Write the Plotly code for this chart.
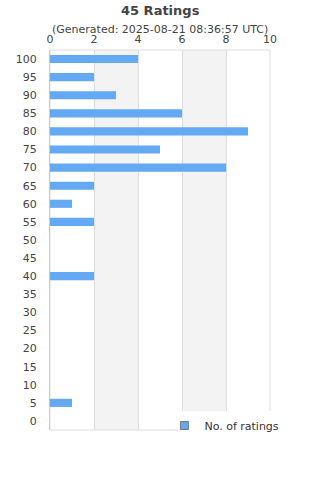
import plotly.graph_objects as go

categories = [str(v) for v in range(0, 101, 5)]
counts = [0, 1, 0, 0, 0, 0, 0, 0, 2, 0, 0, 2, 1, 2, 8, 5, 9, 6, 3, 2, 4]
x_ticks = [0, 2, 4, 6, 8, 10]
title = "45 Ratings"
subtitle = "(Generated: 2025-08-21 08:36:57 UTC)"
series_name = "No. of ratings"

BAR = "#63a9f4"
FONT = "DejaVu Sans"
TXT = "#444444"

fig = go.Figure()
fig.add_trace(go.Bar(
    x=counts, y=categories, orientation="h", width=0.45,
    marker=dict(color=BAR, line=dict(width=0)),
    showlegend=False, hoverinfo="x+y",
))
fig.add_trace(go.Scatter(
    x=[None], y=[None], mode="markers", name=series_name,
    marker=dict(symbol="square", size=8, color=BAR, line=dict(color="#777777", width=1)),
))

shapes = []
for i in range(1, len(x_ticks) - 1, 2):
    shapes.append(dict(type="rect", xref="x", yref="paper", x0=x_ticks[i], x1=x_ticks[i + 1],
                       y0=0, y1=1, fillcolor="#f3f3f3", line=dict(width=0), layer="below"))
shapes.append(dict(type="rect", xref="paper", yref="paper", x0=0, x1=1, y0=0, y1=1,
                   line=dict(color="#dddddd", width=1), layer="below"))
# white legend box that overlaps the bottom-right of the plot area
shapes.append(dict(type="rect", xref="paper", yref="paper", x0=128 / 220, x1=1.3,
                   y0=-0.015, y1=19 / 380, fillcolor="white", line=dict(width=0), layer="above"))

fig.update_layout(
    width=320, height=480,
    margin=dict(l=50, r=50, t=50, b=50),
    paper_bgcolor="white", plot_bgcolor="white",
    font=dict(family=FONT, size=11, color=TXT),
    shapes=shapes,
    xaxis=dict(side="top", range=[0, 10], tickvals=x_ticks, showgrid=True, gridcolor="#dddddd",
               gridwidth=1, zeroline=False, showline=False, ticks="", tickfont=dict(size=11, color=TXT),
               ticklabelstandoff=4, fixedrange=True),
    yaxis=dict(type="category", categoryorder="array", categoryarray=categories,
               range=[-0.5, len(categories) - 0.5], showgrid=False, zeroline=False,
               showline=True, linecolor="#cccccc", linewidth=1, ticks="",
               ticklabelstandoff=10, tickfont=dict(size=11, color=TXT), fixedrange=True),
    legend=dict(x=0.52, y=0.05, xanchor="left", yanchor="top", bgcolor="rgba(0,0,0,0)",
                font=dict(size=11, color="#333333"), borderwidth=0, itemwidth=30),
    annotations=[
        dict(text="<b>" + title + "</b>", xref="paper", yref="paper", x=0.5, y=1, yshift=40,
             showarrow=False, font=dict(size=13, color=TXT), xanchor="center", yanchor="middle"),
        dict(text=subtitle, xref="paper", yref="paper", x=0.5, y=1, yshift=21,
             showarrow=False, font=dict(size=11, color=TXT), xanchor="center", yanchor="middle"),
    ],
)

fig.write_html("out.html")
